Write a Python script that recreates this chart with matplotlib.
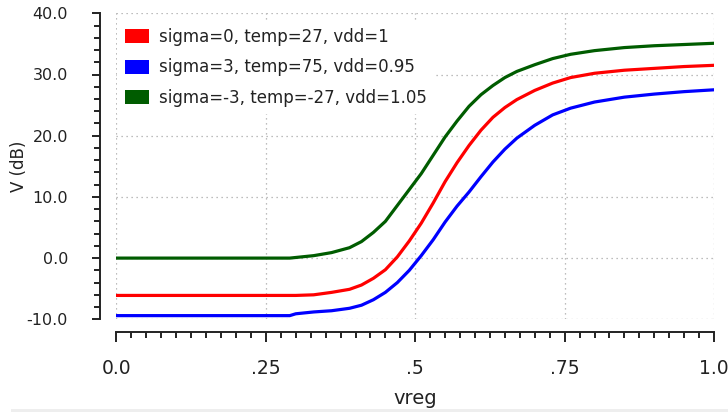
import numpy as np
import matplotlib
matplotlib.use("Agg")
import matplotlib.pyplot as plt
from matplotlib.patches import Patch, Rectangle
from matplotlib.ticker import MultipleLocator, FixedLocator, FixedFormatter

# values (vreg sweep, V in dB)
vreg = [0.0, 0.25, 0.29, 0.30, 0.33, 0.36, 0.39, 0.41, 0.43, 0.45, 0.47, 0.49,
        0.51, 0.53, 0.55, 0.57, 0.59, 0.61, 0.63, 0.65, 0.67, 0.70, 0.73, 0.76,
        0.80, 0.85, 0.90, 0.95, 1.0]
v_nom = [-6.1, -6.1, -6.1, -6.1, -6.0, -5.6, -5.1, -4.4, -3.3, -1.9, 0.2, 2.8,
         5.7, 9.0, 12.5, 15.6, 18.4, 20.9, 23.0, 24.6, 25.9, 27.4, 28.6, 29.5,
         30.2, 30.7, 31.0, 31.3, 31.5]
v_slow = [-9.4, -9.4, -9.4, -9.1, -8.8, -8.6, -8.2, -7.7, -6.8, -5.6, -4.0, -2.0,
          0.4, 3.0, 5.9, 8.5, 10.8, 13.3, 15.7, 17.8, 19.6, 21.7, 23.4, 24.5,
          25.5, 26.3, 26.8, 27.2, 27.5]
v_fast = [0.0, 0.0, 0.0, 0.1, 0.4, 0.9, 1.7, 2.7, 4.2, 6.0, 8.6, 11.2,
          13.8, 16.8, 19.8, 22.4, 24.8, 26.7, 28.2, 29.5, 30.5, 31.6, 32.6, 33.3,
          33.9, 34.4, 34.7, 34.9, 35.1]

labels = ["sigma=0, temp=27, vdd=1",
          "sigma=3, temp=75, vdd=0.95",
          "sigma=-3, temp=-27, vdd=1.05"]
colors = ["#ff0000", "#0000ff", "#005c00"]

x_ticks = [0.0, 0.25, 0.5, 0.75, 1.0]
x_ticklabels = ["0.0", ".25", ".5", ".75", "1.0"]
y_ticks = [-10, 0, 10, 20, 30, 40]
y_ticklabels = ["-10.0", "0.0", "10.0", "20.0", "30.0", "40.0"]

W, H = 728, 412
fig = plt.figure(figsize=(W / 100, H / 100), dpi=100)
ax = fig.add_axes([116.5 / W, 1 - 319.3 / H, (714 - 116.5) / W, (319.3 - 13.3) / H])

for ys, c in zip([v_nom, v_slow, v_fast], colors):
    ax.plot(vreg, ys, color=c, lw=2.3, zorder=3)

ax.set_xlim(0, 1)
ax.set_ylim(-10, 40)

ax.grid(True, which="major", color="#a8a8a8", linestyle=(0, (1, 3)), lw=0.9, zorder=1)

# axes look
for s in ["top", "right"]:
    ax.spines[s].set_visible(False)
ax.spines["left"].set_position(("outward", 11.9))
ax.spines["bottom"].set_position(("outward", 8.9))
for s in ["left", "bottom"]:
    ax.spines[s].set_linewidth(1.4)
    ax.spines[s].set_color("#222222")

ax.xaxis.set_major_locator(FixedLocator(x_ticks))
ax.xaxis.set_major_formatter(FixedFormatter(x_ticklabels))
ax.xaxis.set_minor_locator(MultipleLocator(0.025))
ax.yaxis.set_major_locator(FixedLocator(y_ticks))
ax.yaxis.set_major_formatter(FixedFormatter(y_ticklabels))
ax.yaxis.set_minor_locator(MultipleLocator(2))

ax.tick_params(axis="x", which="major", length=7.2, width=1.4, color="#222222",
               pad=12.5, labelsize=13.5, labelcolor="#222222")
ax.tick_params(axis="x", which="minor", length=4.3, width=1.4, color="#222222")
ax.tick_params(axis="y", which="major", length=6, width=1.4, color="#222222",
               pad=17, labelsize=11.5, labelcolor="#222222")
ax.tick_params(axis="y", which="minor", length=4.3, width=1.4, color="#222222")

ax.set_xlabel("vreg", fontsize=14, color="#222222")
ax.xaxis.set_label_coords(0.5, -0.228)
ax.set_ylabel("V (dB)", fontsize=12, color="#222222")
ax.yaxis.set_label_coords(-0.148, 0.5)

handles = [Patch(facecolor=c, edgecolor="none") for c in colors]
leg = ax.legend(handles, labels, loc="upper left", bbox_to_anchor=(-0.007, 0.993),
                fontsize=12, frameon=True, facecolor="white", edgecolor="none",
                framealpha=1, fancybox=False, handlelength=1.47, handleheight=0.94,
                handletextpad=0.6, labelspacing=0.75, borderpad=0.45, borderaxespad=0.3)
leg.set_zorder(4)
for t in leg.get_texts():
    t.set_color("#222222")

# light window edge along the bottom
fig.add_artist(Rectangle((0.015, 0.0), 0.985, 0.007, transform=fig.transFigure,
                         facecolor="#eeeeee", edgecolor="none"))

fig.savefig("out.png", dpi=100)
